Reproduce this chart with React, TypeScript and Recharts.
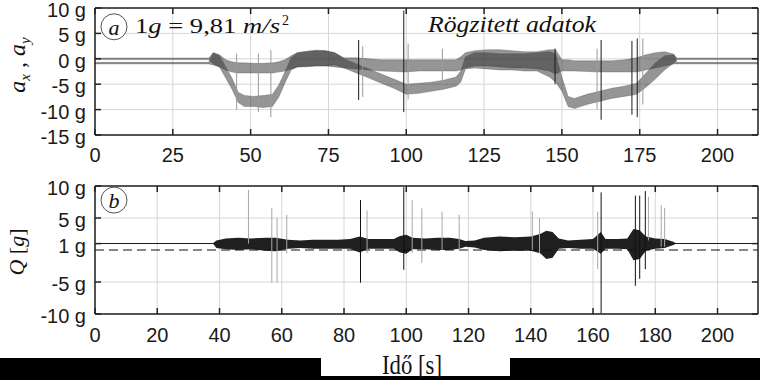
import React from 'react';
import {
  ComposedChart,
  Area,
  XAxis,
  YAxis,
  CartesianGrid,
  ReferenceLine,
  ReferenceDot,
  Label,
} from 'recharts';

const accTime = [
  0, 36.5, 38, 40, 42, 44, 46, 48, 51, 54,
  57, 59, 61, 63, 65, 68, 71, 74, 77, 80,
  84, 88, 92, 96, 100, 104, 108, 112, 116, 117.5,
  119, 122, 126, 130, 134, 138, 142, 146, 148, 150,
  152, 154, 158, 162, 166, 170, 174, 177, 180, 183,
  186, 187, 213,
];

// upper trace
const ayBand: [number, number][] = [
  [-1.0, -0.7], [-1.0, -0.7], [-1.2, 1.2], [-1.6, 0.8], [-2.2, -0.2], [-2.6, -0.6], [-2.8, -0.8], [-2.8, -0.8], [-2.8, -0.9], [-2.8, -0.9],
  [-2.8, -0.8], [-2.6, -0.6], [-2.4, -0.2], [-2.0, 0.6], [-1.6, 1.2], [-1.4, 1.5], [-1.4, 1.7], [-1.4, 1.6], [-1.6, 1.2], [-1.8, 0.2],
  [-2.0, 0.2], [-2.2, 0.0], [-2.4, -0.2], [-2.5, -0.2], [-2.6, -0.2], [-2.4, -0.2], [-2.4, -0.2], [-2.4, -0.2], [-2.4, -0.2], [-2.2, 0.4],
  [-1.8, 1.2], [-1.4, 1.6], [-1.4, 1.8], [-1.6, 1.8], [-1.8, 1.6], [-1.8, 1.4], [-2.0, 1.4], [-2.4, 1.8], [-3.0, 1.8], [-2.4, -0.2],
  [-2.4, -0.2], [-2.4, -0.4], [-2.5, -0.4], [-2.6, -0.4], [-2.6, -0.4], [-2.6, -0.2], [-2.6, 0.2], [-2.2, 0.8], [-1.8, 1.2], [-1.4, 1.4],
  [-1.0, 0.9], [-1.0, -0.7], [-1.0, -0.7],
];

// lower trace (deep dips)
const axBand: [number, number][] = [
  [-0.15, 0.15], [-0.15, 0.15], [-1.0, 1.2], [-1.6, 0.6], [-3.8, -1.6], [-6.0, -3.8], [-8.6, -6.6], [-9.4, -7.2], [-9.4, -7.4], [-9.6, -7.2],
  [-9.4, -7.0], [-7.6, -5.2], [-4.8, -2.6], [-2.2, 0.2], [-1.6, 1.2], [-1.6, 1.4], [-1.4, 1.6], [-1.4, 1.6], [-1.2, 1.2], [-1.8, 0.0],
  [-2.8, -1.0], [-3.8, -2.0], [-4.8, -3.0], [-5.8, -4.0], [-7.0, -5.0], [-6.8, -4.8], [-6.4, -4.6], [-6.0, -4.2], [-5.4, -3.6], [-4.6, -2.4],
  [-2.0, 0.4], [-1.8, 1.2], [-2.0, 1.2], [-2.2, 1.0], [-2.2, 1.0], [-2.4, 1.0], [-2.4, 1.2], [-3.6, 1.4], [-4.6, 1.0], [-6.4, -3.6],
  [-9.4, -7.4], [-9.8, -7.8], [-9.0, -7.0], [-8.4, -6.4], [-7.8, -5.8], [-7.4, -5.4], [-7.0, -4.8], [-5.6, -2.8], [-4.0, -0.8], [-2.2, 0.6],
  [-0.8, 0.8], [-0.15, 0.15], [-0.15, 0.15],
];

// short vertical spikes [t, low, high]
const accSpikesDark: [number, number, number][] = [
  [84.7, -8.1, 3.7], [99.2, -10.5, 9.5], [147.8, -5, 2], [162.6, -12, 3.7], [172.5, -11, 3.5], [174.2, -11.5, 4],
];
const accSpikesLight: [number, number, number][] = [
  [45.5, -10, 1], [52.5, -10.5, 1], [56.5, -11.5, 1.7], [86, -7.5, 2.5], [100.6, -8, 3], [111.6, -6, 2], [161.3, -10, 2], [176, -9, 4],
];

const accTicksX = [0, 25, 50, 75, 100, 125, 150, 175, 200];
const accTicksY = [-15, -10, -5, 0, 5, 10];

// --- (b) Q ---
const qTime = [
  0, 38, 39, 42, 46, 50, 55, 58, 62, 66,
  70, 74, 78, 82, 85, 88, 92, 96, 98, 100,
  102, 106, 110, 114, 117, 119, 122, 125, 130, 135,
  140, 143, 145, 147, 149, 152, 156, 160, 162.5, 164,
  168, 171, 173, 175, 177, 180, 183, 185.8, 186.5, 213,
];
const qBand: [number, number][] = [
  [0.92, 1.08], [0.92, 1.08], [0.3, 1.5], [0.1, 1.8], [0.0, 1.9], [0.1, 1.8], [-0.1, 1.9], [-0.2, 1.9], [0.2, 1.6], [0.3, 1.5],
  [0.2, 1.6], [0.2, 1.6], [0.2, 1.6], [0.2, 1.7], [-0.4, 2.1], [0.2, 1.7], [0.2, 1.7], [0.2, 1.7], [-0.4, 2.2], [-0.6, 2.4],
  [0.1, 1.9], [0.1, 1.8], [0.0, 1.9], [0.0, 1.9], [0.2, 1.7], [0.5, 1.4], [0.4, 1.5], [0.0, 1.9], [-0.2, 2.1], [-0.1, 2.0],
  [-0.1, 2.1], [-0.5, 2.5], [-1.4, 3.0], [-1.2, 2.8], [0.2, 1.8], [0.3, 1.5], [0.2, 1.6], [0.2, 1.7], [-0.6, 2.8], [0.2, 1.7],
  [0.2, 1.7], [0.1, 1.8], [-1.6, 3.3], [-1.4, 3.1], [-0.1, 2.1], [0.2, 1.8], [0.3, 1.7], [0.8, 1.3], [0.92, 1.08], [0.92, 1.08],
];
const qSpikesDark: [number, number, number][] = [
  [85.3, -5.1, 7.8], [99.2, -3.1, 9.8], [162.6, -9.9, 9.0], [173.6, -5.6, 8.5], [175.0, -4.5, 8.5], [176.8, -3, 9.2],
];
const qSpikesLight: [number, number, number][] = [
  [49.3, 1, 9.4], [56.8, -5.1, 6.6], [58.5, -5.1, 5], [61.6, -0.5, 5.5], [87.4, -0.5, 6.2], [101.9, -0.5, 7.8], [105, -2, 6.5],
  [111.5, 0, 6], [117, 0, 5.5], [140.5, 0, 6], [142.8, -0.5, 5], [161.5, -3, 6], [177.8, 1.5, 8.3], [181.9, 0.5, 7], [183, 0.5, 6.6],
];
const qTicksX = [0, 20, 40, 60, 80, 100, 120, 140, 160, 180, 200];
const qTicksY = [-10, -5, 1, 5, 10];

const accData = accTime.map((t, i) => ({ t, ax: axBand[i], ay: ayBand[i] }));
const qData = qTime.map((t, i) => ({ t, q: qBand[i] }));

const sansFamily = '"Liberation Sans", Arial, sans-serif';
const tickFont = { fontFamily: sansFamily, fontSize: 20, fill: '#1a1a1a' };
const serif = '"Liberation Serif", "Times New Roman", serif';
const noLabel = () => <g />;

// y tick labels sit a little below their tick, as in the original figure
const YTick = (p: any) => (
  <text x={p.x} y={p.y + 2} textAnchor="end" dominantBaseline="central"
    fontFamily={sansFamily} fontSize={20} fill="#1a1a1a">
    {`${p.payload.value} g`}
  </text>
);

export default function App() {
  return (
    <div style={{ position: 'absolute', left: 0, top: 0, width: 760, height: 380, background: '#fff', overflow: 'hidden' }}>
      {/* (a) */}
      <div style={{ position: 'absolute', left: 0, top: 0 }}>
        <ComposedChart width={760} height={175} data={accData} margin={{ top: 7, right: 1, bottom: 0, left: 0 }}>
          <CartesianGrid stroke="#d6d6d6" />
          <XAxis dataKey="t" type="number" domain={[0, 213]} ticks={accTicksX} interval={0} allowDataOverflow
            height={40} tick={tickFont} tickSize={-6} tickMargin={19} stroke="#222" strokeWidth={1.5} />
          <XAxis xAxisId="top" orientation="top" dataKey="t" type="number" domain={[0, 213]} ticks={accTicksX} interval={0}
            allowDataOverflow height={1} tick={noLabel} tickSize={-6} stroke="#222" strokeWidth={1.5} />
          <YAxis type="number" domain={[-15, 10]} ticks={accTicksY} interval={0} allowDataOverflow width={95}
            tick={YTick} tickSize={-6} tickMargin={15} stroke="#222" strokeWidth={1.5} />
          <YAxis yAxisId="right" orientation="right" type="number" domain={[-15, 10]} ticks={accTicksY} interval={0}
            allowDataOverflow width={1} tick={noLabel} tickSize={-6} stroke="#222" strokeWidth={1.5} />
          {accSpikesLight.map(([t, lo, hi]) => (
            <ReferenceLine key={'al' + t} segment={[{ x: t, y: lo }, { x: t, y: hi }]} stroke="#9a9a9a" strokeWidth={1} />
          ))}
          <Area dataKey="ay" type="linear" stroke="#444" strokeOpacity={0.3} strokeWidth={1} fill="#333" fillOpacity={0.52} isAnimationActive={false} />
          <Area dataKey="ax" type="linear" stroke="#444" strokeOpacity={0.3} strokeWidth={1} fill="#333" fillOpacity={0.52} isAnimationActive={false} />
          {accSpikesDark.map(([t, lo, hi]) => (
            <ReferenceLine key={'ad' + t} segment={[{ x: t, y: lo }, { x: t, y: hi }]} stroke="#1a1a1a" strokeWidth={1} />
          ))}
          <ReferenceDot x={6.1} y={6.3} r={13} fill="#fff" stroke="#555" strokeWidth={1}>
            <Label value="a" position="center" fontFamily={serif} fontStyle="italic" fontSize={22} fill="#111" />
          </ReferenceDot>
        </ComposedChart>
      </div>

      {/* (b) */}
      <div style={{ position: 'absolute', left: 0, top: 175 }}>
        <ComposedChart width={760} height={185} data={qData} margin={{ top: 10, right: 1, bottom: 0, left: 0 }}>
          <CartesianGrid stroke="#d6d6d6" />
          <XAxis dataKey="t" type="number" domain={[0, 213]} ticks={qTicksX} interval={0} allowDataOverflow
            height={46} tick={tickFont} tickSize={-6} tickMargin={20} stroke="#222" strokeWidth={1.5} />
          <XAxis xAxisId="top" orientation="top" dataKey="t" type="number" domain={[0, 213]} ticks={qTicksX} interval={0}
            allowDataOverflow height={1} tick={noLabel} tickSize={-6} stroke="#222" strokeWidth={1.5} />
          <YAxis type="number" domain={[-10, 10]} ticks={qTicksY} interval={0} allowDataOverflow width={95}
            tick={YTick} tickSize={-6} tickMargin={15} stroke="#222" strokeWidth={1.5} />
          <YAxis yAxisId="right" orientation="right" type="number" domain={[-10, 10]} ticks={qTicksY} interval={0}
            allowDataOverflow width={1} tick={noLabel} tickSize={-6} stroke="#222" strokeWidth={1.5} />
          <ReferenceLine y={0} stroke="#111" strokeDasharray="9 5" strokeWidth={1.2} />
          {qSpikesLight.map(([t, lo, hi]) => (
            <ReferenceLine key={'ql' + t} segment={[{ x: t, y: lo }, { x: t, y: hi }]} stroke="#a8a8a8" strokeWidth={1} />
          ))}
          <Area dataKey="q" type="linear" stroke="none" fill="#0d0d0d" fillOpacity={0.92} isAnimationActive={false} />
          {qSpikesDark.map(([t, lo, hi]) => (
            <ReferenceLine key={'qd' + t} segment={[{ x: t, y: lo }, { x: t, y: hi }]} stroke="#111" strokeWidth={1} />
          ))}
          <ReferenceDot x={6.1} y={7.8} r={13} fill="#fff" stroke="#555" strokeWidth={1}>
            <Label value="b" position="center" fontFamily={serif} fontStyle="italic" fontSize={22} fill="#111" />
          </ReferenceDot>
        </ComposedChart>
      </div>

      {/* x-axis caption strip */}
      <div style={{ position: 'absolute', left: 0, top: 358, width: 760, height: 22, background: '#000' }} />
      <div style={{ position: 'absolute', left: 321, top: 358, width: 189, height: 18, background: '#fff' }} />

      <svg width={760} height={380} style={{ position: 'absolute', left: 0, top: 0, pointerEvents: 'none' }}>
        <text transform="translate(25,65) rotate(-90)" textAnchor="middle" fontFamily={serif} fontSize={24} fill="#111">
          <tspan fontStyle="italic">a</tspan>
          <tspan fontStyle="italic" fontSize={15} dy={5}>x</tspan>
          <tspan dy={-5}>{' , '}</tspan>
          <tspan fontStyle="italic">a</tspan>
          <tspan fontStyle="italic" fontSize={15} dy={5}>y</tspan>
        </text>
        <text transform="translate(24,252) rotate(-90)" textAnchor="middle" fontFamily={serif} fontSize={22} fill="#111">
          <tspan fontStyle="italic">Q</tspan>
          <tspan>{' ['}</tspan>
          <tspan fontStyle="italic">g</tspan>
          <tspan>]</tspan>
        </text>
        <text x={135} y={33} fontFamily={serif} fontSize={21} fill="#111" textLength={145} lengthAdjust="spacingAndGlyphs">
          1<tspan fontStyle="italic">g</tspan> = 9,81 <tspan fontStyle="italic">m/s</tspan>
        </text>
        <text x={282} y={25} fontFamily={serif} fontSize={14} fill="#111">2</text>
        <text x={428} y={32} fontFamily={serif} fontStyle="italic" fontSize={24} fill="#111" textLength={168} lengthAdjust="spacingAndGlyphs">
          Rögzitett adatok
        </text>
        <text x={382} y={374} fontFamily={serif} fontSize={28} fill="#111" textLength={60} lengthAdjust="spacingAndGlyphs">
          Idő [s]
        </text>
      </svg>
    </div>
  );
}
